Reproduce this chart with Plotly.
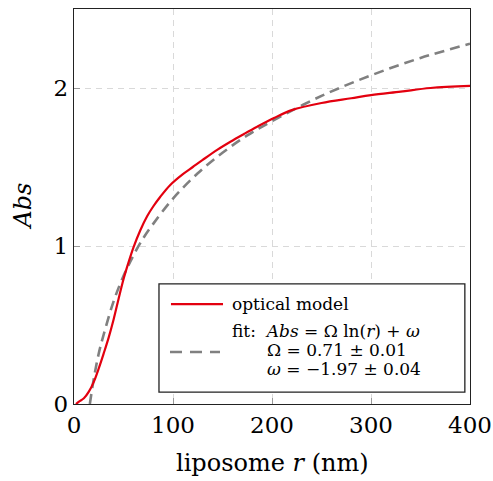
import plotly.graph_objects as go

# optical model curve
model_r = [2, 5, 10, 15, 20, 25, 30, 35, 40, 45, 50, 55, 60, 67, 74, 80, 87, 97,
           110, 120, 130, 145, 158, 172, 185, 202, 220, 250, 280, 300, 330, 360, 400]
model_abs = [0.0, 0.015, 0.036, 0.078, 0.14, 0.225, 0.32, 0.42, 0.535, 0.665, 0.79,
             0.895, 0.99, 1.10, 1.19, 1.25, 1.31, 1.385, 1.455, 1.50, 1.545, 1.61,
             1.66, 1.71, 1.755, 1.81, 1.86, 1.905, 1.935, 1.955, 1.977, 2.0, 2.013]

# fitted curve
fit_r = [16, 20, 25, 30, 40, 50, 60, 70, 80, 100, 125, 150, 175, 200, 250, 300, 350, 400]
fit_abs = [0.0, 0.16, 0.32, 0.44, 0.65, 0.81, 0.94, 1.05, 1.14, 1.30, 1.46, 1.59,
           1.70, 1.79, 1.95, 2.08, 2.19, 2.28]

x_ticks = [0, 100, 200, 300, 400]
y_ticks = [0, 1, 2]

legend_model = "optical model"
legend_fit = ["fit:  <i>Abs</i> = Ω ln(<i>r</i>) + <i>ω</i>",
              "Ω = 0.71 ± 0.01",
              "<i>ω</i> = −1.97 ± 0.04"]

FONT = "DejaVu Serif"
RED = "#e3000f"
GRAY = "#808080"

fig = go.Figure()
fig.add_trace(go.Scatter(x=fit_r, y=fit_abs, mode="lines", line_shape="spline",
                         line=dict(color=GRAY, width=2.6, dash="10px,6px"),
                         showlegend=False))
fig.add_trace(go.Scatter(x=model_r, y=model_abs, mode="lines", line_shape="spline",
                         line=dict(color=RED, width=2.2, smoothing=1.0), showlegend=False))

axis_common = dict(
    showline=True, linecolor="#222222", linewidth=1.3, mirror=True,
    ticks="inside", ticklen=6, tickcolor="#999999", tickwidth=1,
    showgrid=True, gridcolor="#d9d9d9", griddash="6px,5px", gridwidth=1,
    zeroline=False, automargin=False,
    tickfont=dict(family=FONT, size=23, color="black"),
)

fig.update_xaxes(range=[0, 400], tickvals=x_ticks, **axis_common)
fig.update_yaxes(range=[0, 2.5], tickvals=y_ticks, **axis_common)

# axis titles
tf = dict(family=FONT, size=24, color="black")
fig.add_annotation(xref="x domain", yref="y domain", x=0.5, y=-0.149,
                   text="liposome <i>r</i> (nm)", showarrow=False,
                   xanchor="center", yanchor="middle", font=tf)
fig.add_annotation(xref="x domain", yref="y domain", x=-0.131, y=0.5,
                   text="<i>Abs</i>", showarrow=False, textangle=-90,
                   xanchor="center", yanchor="middle", font=tf)

# legend box drawn manually
fig.add_shape(type="rect", xref="x domain", yref="y domain",
              x0=0.2146, x1=0.987, y0=0.030, y1=0.304,
              line=dict(color="#222222", width=1.3), fillcolor="white", layer="above")
fig.add_shape(type="line", xref="x domain", yref="y domain",
              x0=0.2449, x1=0.3763, y0=0.253, y1=0.253,
              line=dict(color=RED, width=2.2), layer="above")
fig.add_shape(type="line", xref="x domain", yref="y domain",
              x0=0.2424, x1=0.3687, y0=0.1316, y1=0.1316,
              line=dict(color=GRAY, width=2.6, dash="12px,8px"), layer="above")

lf = dict(family=FONT, size=17, color="black")
fig.add_annotation(xref="x domain", yref="y domain", x=0.395, y=0.253, text=legend_model,
                   showarrow=False, xanchor="left", yanchor="middle", font=lf)
fig.add_annotation(xref="x domain", yref="y domain", x=0.395, y=0.184, text=legend_fit[0],
                   showarrow=False, xanchor="left", yanchor="middle", font=lf)
fig.add_annotation(xref="x domain", yref="y domain", x=0.483, y=0.136, text=legend_fit[1],
                   showarrow=False, xanchor="left", yanchor="middle", font=lf)
fig.add_annotation(xref="x domain", yref="y domain", x=0.483, y=0.088, text=legend_fit[2],
                   showarrow=False, xanchor="left", yanchor="middle", font=lf)

fig.update_layout(width=493, height=481, margin=dict(l=74, r=23, t=9, b=77),
                  plot_bgcolor="white", paper_bgcolor="white", showlegend=False,
                  font=dict(family=FONT, color="black"))

fig.write_html("out.html", config={"displayModeBar": False},
               post_script="document.body.style.margin='0';document.body.style.overflow='hidden';")
